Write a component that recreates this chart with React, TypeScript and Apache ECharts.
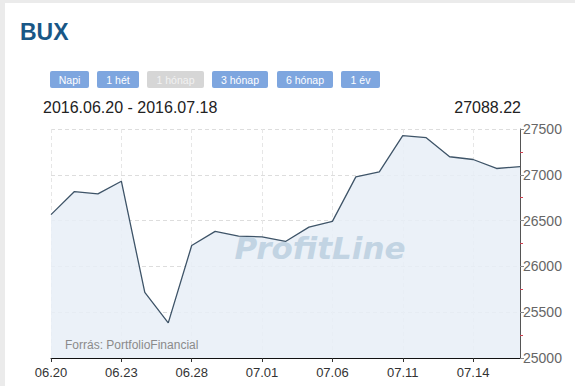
import React, { useEffect, useRef } from "react";
import * as echarts from "echarts";

const categories = [
  "06.20", "06.21", "06.22", "06.23", "06.24", "06.27", "06.28", "06.29", "06.30", "07.01",
  "07.04", "07.05", "07.06", "07.07", "07.08", "07.11", "07.12", "07.13", "07.14", "07.15", "07.18",
];
const values = [
  26565, 26817, 26791, 26930, 25716, 25384, 26228, 26382, 26330, 26322,
  26272, 26429, 26491, 26977, 27032, 27427, 27405, 27197, 27167, 27069, 27088.22,
];
const buttonLabels = ["Napi", "1 hét", "1 hónap", "3 hónap", "6 hónap", "1 év"];
const buttonX = [50, 97, 147, 212, 277, 341];
const buttonW = [39, 42, 57, 56, 56, 39];
const activeButton = [true, true, false, true, true, true];
const title = "BUX";
const dateRange = "2016.06.20 - 2016.07.18";
const lastValue = "27088.22";
const source = "Forrás: PortfolioFinancial";
const watermark = "ProfitLine";

const FONT = "'Liberation Sans', Arial, sans-serif";

export default function App() {
  const ref = useRef<HTMLDivElement>(null);
  useEffect(() => {
    const chart = echarts.init(ref.current!, null, { renderer: "svg" });
    const buttons: any[] = [];
    buttonLabels.forEach((b, i) => {
      buttons.push({
        type: "rect",
        shape: { x: buttonX[i], y: 71, width: buttonW[i], height: 17, r: 2 },
        style: { fill: activeButton[i] ? "#7ea6df" : "#d6d6d6" },
        z: 10,
      });
      buttons.push({
        type: "text",
        x: buttonX[i] + buttonW[i] / 2,
        y: 79.5,
        style: {
          text: b,
          fill: activeButton[i] ? "#ffffff" : "#f2f2f2",
          font: `10.5px ${FONT}`,
          textAlign: "center",
          textVerticalAlign: "middle",
        },
        z: 11,
      });
    });
    chart.setOption({
      animation: false,
      backgroundColor: "#ffffff",
      grid: { left: 51, right: 55, top: 129, bottom: 28, containLabel: false },
      graphic: [
        { type: "rect", shape: { x: 0, y: 0, width: 575, height: 3 }, style: { fill: "#ebebeb" }, z: 1 },
        { type: "rect", shape: { x: 0, y: 0, width: 5, height: 386 }, style: { fill: "#ebebeb" }, z: 1 },
        {
          type: "text",
          x: 20,
          y: 32,
          style: { text: title, fill: "#195786", font: `bold 23px ${FONT}`, textVerticalAlign: "middle" },
          z: 10,
        },
        ...buttons,
        {
          type: "text",
          x: 43,
          y: 107,
          style: { text: dateRange, fill: "#222222", font: `16px ${FONT}`, textVerticalAlign: "middle" },
          z: 10,
        },
        {
          type: "text",
          x: 521,
          y: 107,
          style: { text: lastValue, fill: "#222222", font: `16px ${FONT}`, textAlign: "right", textVerticalAlign: "middle" },
          z: 10,
        },
        {
          type: "text",
          x: 320,
          y: 248,
          style: {
            text: watermark,
            fill: "#c2d4e3",
            font: `italic bold 31px 'DejaVu Sans', sans-serif`,
            textAlign: "center",
            textVerticalAlign: "middle",
          },
          z: 5,
        },
        {
          type: "text",
          x: 65,
          y: 345,
          style: { text: source, fill: "#8a8a8a", font: `12px ${FONT}`, textVerticalAlign: "middle" },
          z: 10,
        },
      ],
      xAxis: {
        type: "category",
        data: categories,
        boundaryGap: false,
        axisLine: { show: true, lineStyle: { color: "#111111", width: 1 } },
        axisTick: { show: true, interval: 2, length: 4, lineStyle: { color: "#333" } },
        axisLabel: { interval: 2, color: "#333333", fontSize: 13, fontFamily: FONT, margin: 8 },
        splitLine: { show: true, interval: 2, lineStyle: { color: "#e6e6e6", type: [4, 3] } },
      },
      yAxis: {
        type: "value",
        position: "right",
        min: 25000,
        max: 27500,
        interval: 500,
        axisLine: { show: true, lineStyle: { color: "#555555" } },
        axisTick: { show: true, inside: false, length: 4, lineStyle: { color: "#888" } },
        minorTick: { show: true, splitNumber: 2, length: 3, lineStyle: { color: "#d04050" } },
        axisLabel: {
          color: "#666666",
          fontSize: 14,
          fontFamily: FONT,
          margin: 3,
          formatter: (v: number) => String(v),
        },
        splitLine: { show: true, lineStyle: { color: "#dddddd", type: [4, 3] } },
      },
      series: [
        {
          type: "line",
          data: values,
          symbol: "none",
          lineStyle: { color: "#3e5468", width: 1.3 },
          areaStyle: { color: "#e7eef7", opacity: 0.85 },
          z: 3,
        },
      ],
    });
    return () => chart.dispose();
  }, []);
  return (
    <div
      ref={ref}
      style={{ position: "fixed", left: 0, top: 0, width: 575, height: 386 }}
    />
  );
}
